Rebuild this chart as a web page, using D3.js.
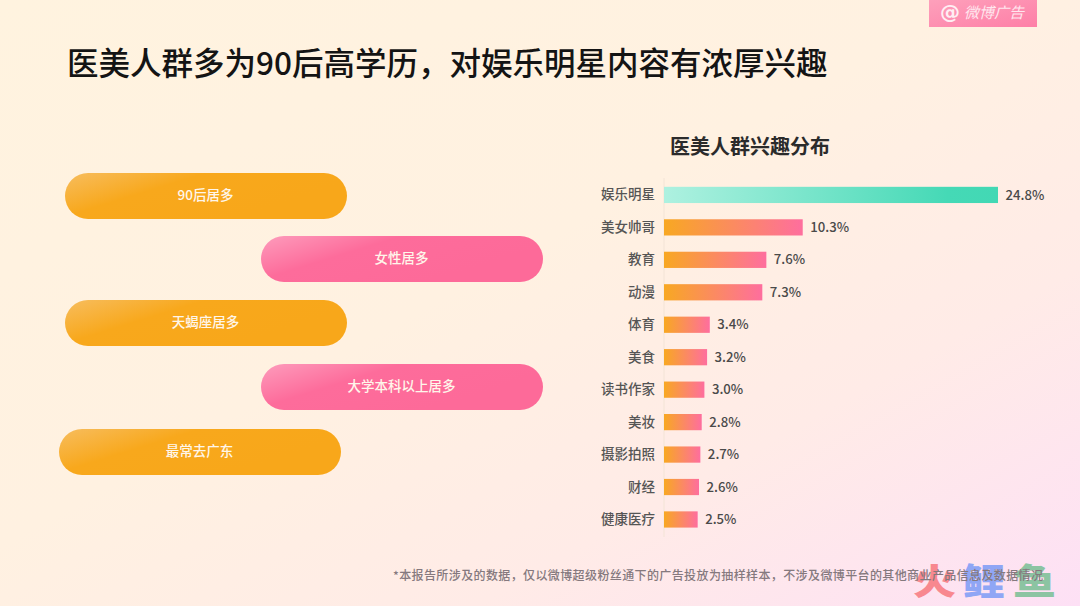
<!DOCTYPE html>
<html><head><meta charset="utf-8">
<script src="https://cdn.jsdelivr.net/npm/d3@7"></script>
<style>html,body{margin:0;padding:0;background:#fff3df;overflow:hidden}svg{display:block}text{font-family:"Noto Sans CJK SC","Noto Sans",sans-serif}</style>
</head><body><svg id="c" width="1080" height="606"></svg>
<script>
const categories = ["娱乐明星","美女帅哥","教育","动漫","体育","美食","读书作家","美妆","摄影拍照","财经","健康医疗"];
const values = [24.8,10.3,7.6,7.3,3.4,3.2,3.0,2.8,2.7,2.6,2.5];
const pillLabels = ["90后居多","女性居多","天蝎座居多","大学本科以上居多","最常去广东"];
const pillKinds = ["o","p","o","p","o"];
const pillX = [65,261,65,261,59];
const pillY = [173,236,300,364,429];
const title = "医美人群多为90后高学历，对娱乐明星内容有浓厚兴趣";
const chartTitle = "医美人群兴趣分布";
const note = "*本报告所涉及的数据，仅以微博超级粉丝通下的广告投放为抽样样本，不涉及微博平台的其他商业产品信息及数据情况";

const svg = d3.select("#c");
const defs = svg.append("defs");
function grad(id, stops, x1=0,y1=0,x2=1,y2=0){
  const g = defs.append("linearGradient").attr("id",id).attr("x1",x1).attr("y1",y1).attr("x2",x2).attr("y2",y2);
  stops.forEach(s=>g.append("stop").attr("offset",s[0]).attr("stop-color",s[1]));
}
grad("bg",[[0,"#fff3df"],[0.45,"#fff1e1"],[0.72,"#ffebe7"],[1,"#fde0f5"]],0,0,1,1);
grad("top",[[0,"#aef1e0"],[0.85,"#45d9b6"],[1,"#42d8b4"]]);
grad("rest",[[0,"#f8a822"],[1,"#fe6e9e"]]);
grad("pillo",[[0,"#f7bd5e"],[0.45,"#f8a81c"],[1,"#f8a71a"]],0,0,0.87,0.46);
grad("pillp",[[0,"#fd9cbc"],[0.45,"#fd6c9b"],[1,"#fd6a99"]],0,0,0.87,0.46);
grad("badge",[[0,"#fda0bb"],[1,"#fe7fa7"]],0,0,1,1);

svg.append("rect").attr("width",1080).attr("height",606).attr("fill","url(#bg)");

// badge
svg.append("rect").attr("x",929).attr("y",0).attr("width",108).attr("height",27).attr("fill","url(#badge)");
svg.append("text").attr("x",950).attr("y",19).attr("text-anchor","middle").attr("fill","#ffeef3").attr("font-size",20).attr("font-weight",700).style("font-family","DejaVu Sans").text("@");
svg.append("text").attr("x",964).attr("y",18).attr("fill","#ffe6ee").attr("font-size",15).attr("font-style","italic").text("微博广告");

// title
svg.append("text").attr("x",67).attr("y",74.5).attr("font-size",31.5).attr("font-weight",500).attr("fill","#141414").text(title);
svg.append("text").attr("x",750).attr("y",154).attr("text-anchor","middle").attr("font-size",20).attr("font-weight",700).attr("fill","#2b2b2b").text(chartTitle);

// pills
const pills = svg.append("g").selectAll("g").data(pillLabels).join("g");
pills.append("rect").attr("x",(d,i)=>pillX[i]).attr("y",(d,i)=>pillY[i]).attr("width",282).attr("height",46).attr("rx",23)
  .attr("fill",(d,i)=>pillKinds[i]==="o"?"url(#pillo)":"url(#pillp)");
pills.append("text").attr("x",(d,i)=>pillX[i]+140.5).attr("y",(d,i)=>pillY[i]+27).attr("text-anchor","middle")
  .attr("font-size",13.5).attr("font-weight",500).attr("fill","#fff6ea").text(d=>d);

// bars
const x = d3.scaleLinear().domain([0,24.8]).range([664,998]);
const y = d3.scaleBand().domain(categories).range([179,536]).paddingInner(0.5).paddingOuter(0.25);
svg.append("line").attr("x1",664).attr("x2",664).attr("y1",178).attr("y2",537).attr("stroke","#f3e4d6").attr("stroke-width",1);
svg.append("g").selectAll("rect").data(categories).join("rect")
  .attr("x",x(0)).attr("y",d=>y(d)-0.3).attr("height",y.bandwidth())
  .attr("width",(d,i)=>x(values[i])-x(0))
  .attr("fill",(d,i)=>i===0?"url(#top)":"url(#rest)");
svg.append("g").selectAll("text").data(categories).join("text")
  .attr("x",655).attr("y",d=>y(d)+y.bandwidth()/2+4.2).attr("text-anchor","end")
  .attr("font-size",13.5).attr("font-weight",500).attr("fill","#555").text(d=>d);
svg.append("g").selectAll("text").data(values).join("text")
  .attr("x",d=>x(d)+7.5).attr("y",(d,i)=>y(categories[i])+y.bandwidth()/2+4.3)
  .attr("font-size",13.2).attr("font-weight",500).attr("fill","#4a4a4a").text(d=>d.toFixed(1)+"%");

// watermark (drawn under the note, as in the reference)
const wm = [["火","#f8888f",913],["鲤","#8fa6f5",962],["鱼","#8cc4a2",1013]];
svg.append("g").selectAll("text").data(wm).join("text")
  .attr("x",d=>d[2]).attr("y",595).attr("font-size",36).attr("font-weight",900)
  .attr("textLength",43).attr("lengthAdjust","spacingAndGlyphs")
  .attr("fill",d=>d[1]).text(d=>d[0]);

// note
svg.append("text").attr("x",393).attr("y",580).attr("font-size",12).attr("font-weight",500).attr("fill","#85797e").attr("textLength",650).text(note);
</script></body></html>
